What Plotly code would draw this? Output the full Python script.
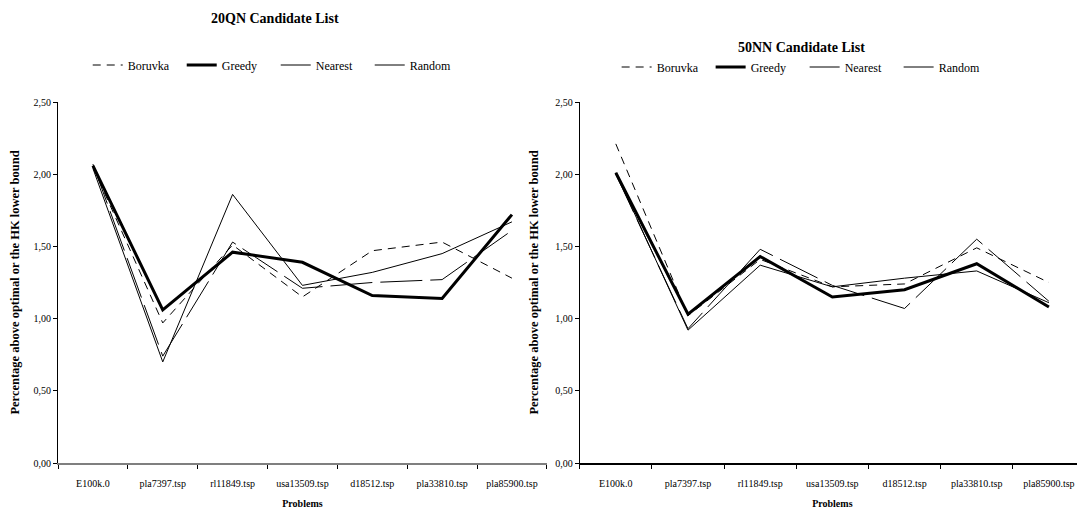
import plotly.graph_objects as go
from plotly.subplots import make_subplots

problems = ["E100k.0", "pla7397.tsp", "rl11849.tsp", "usa13509.tsp", "d18512.tsp", "pla33810.tsp", "pla85900.tsp"]

# 20QN candidate list
qn_boruvka = [2.05, 0.97, 1.51, 1.15, 1.47, 1.53, 1.28]
qn_greedy = [2.06, 1.06, 1.46, 1.39, 1.16, 1.14, 1.72]
qn_nearest = [2.04, 0.70, 1.86, 1.23, 1.32, 1.45, 1.67]
qn_random = [2.07, 0.74, 1.53, 1.21, 1.25, 1.27, 1.61]

# 50NN candidate list
nn_boruvka = [2.21, 1.02, 1.41, 1.22, 1.24, 1.49, 1.25]
nn_greedy = [2.01, 1.03, 1.43, 1.15, 1.20, 1.38, 1.08]
nn_nearest = [2.01, 0.92, 1.37, 1.22, 1.28, 1.33, 1.11]
nn_random = [2.00, 0.93, 1.48, 1.23, 1.07, 1.55, 1.12]

series_names = ["Boruvka", "Greedy", "Nearest", "Random"]
styles = {
    "Boruvka": dict(color="black", width=1, dash="8px,6px"),
    "Greedy": dict(color="black", width=3, dash="solid"),
    "Nearest": dict(color="black", width=1, dash="solid"),
    "Random": dict(color="black", width=1, dash="42px,8px"),
}

FONT = "Liberation Serif, serif"

fig = make_subplots(rows=1, cols=2)

for name, vals in zip(series_names, [qn_boruvka, qn_greedy, qn_nearest, qn_random]):
    fig.add_trace(go.Scatter(x=problems, y=vals, mode="lines", name=name,
                             line=styles[name], legend="legend"), row=1, col=1)
for name, vals in zip(series_names, [nn_boruvka, nn_greedy, nn_nearest, nn_random]):
    fig.add_trace(go.Scatter(x=problems, y=vals, mode="lines", name=name,
                             line=styles[name], legend="legend2"), row=1, col=2)

axis_common_x = dict(
    type="category", tickson="boundaries", ticks="outside", ticklen=4,
    tickcolor="black", showline=True, linecolor="#7f7f7f", linewidth=2,
    showgrid=False, zeroline=False, tickangle=0, automargin=False,
    tickfont=dict(family=FONT, size=10, color="black"),
    ticklabelstandoff=10,
    range=[-0.5, 6.5],
    title=dict(text="<b>Problems</b>", font=dict(family=FONT, size=10, color="black"), standoff=12),
)
axis_common_y = dict(
    range=[0, 2.5], dtick=0.5, tickformat=".2f", ticks="outside", ticklen=4,
    tickcolor="black", showline=True, linecolor="black", linewidth=1,
    showgrid=False, zeroline=False, automargin=False,
    tickfont=dict(family=FONT, size=10, color="black"),
    title=dict(text="<b>Percentage above optimal or the HK lower bound</b>",
               font=dict(family=FONT, size=12.5, color="black"), standoff=13),
)
fig.update_xaxes(**axis_common_x)
fig.update_yaxes(**axis_common_y)
fig.update_layout(
    xaxis=dict(domain=[0, 0.476]),
    xaxis2=dict(domain=[0.508, 1.0], linecolor="black"),
)

# the page body has an 8px margin, so the figure is sized/offset to compensate
fig.update_layout(
    width=1077, height=508,
    paper_bgcolor="white", plot_bgcolor="white",
    separators=",.",
    margin=dict(l=50, r=0, t=94, b=53, autoexpand=False),
    font=dict(family=FONT, size=10, color="black"),
    legend=dict(orientation="h", x=0.212, xanchor="center", y=1.0 + 37 / 361, yanchor="middle",
                font=dict(family=FONT, size=12), bgcolor="rgba(0,0,0,0)",
                itemwidth=30, tracegroupgap=0, entrywidth=49),
    legend2=dict(orientation="h", x=0.727, xanchor="center", y=1.0 + 35 / 361, yanchor="middle",
                 font=dict(family=FONT, size=12), bgcolor="rgba(0,0,0,0)",
                 itemwidth=30, tracegroupgap=0, entrywidth=49),
    annotations=[
        dict(text="<b>20QN Candidate List</b>", x=0.211, y=1.0, xref="paper", yref="paper",
             xanchor="center", yanchor="middle", yshift=84, showarrow=False,
             font=dict(family=FONT, size=14, color="black")),
        dict(text="<b>50NN Candidate List</b>", x=0.724, y=1.0, xref="paper", yref="paper",
             xanchor="center", yanchor="middle", yshift=55, showarrow=False,
             font=dict(family=FONT, size=14, color="black")),
    ],
)

fig.write_html("out.html")
